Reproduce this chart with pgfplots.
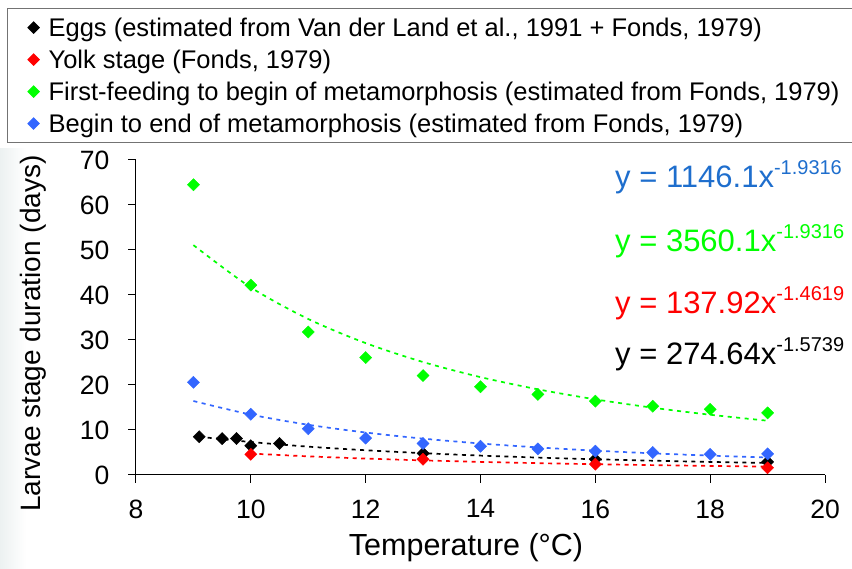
\documentclass[border=0pt]{standalone}
\usepackage{pgfplots}
\pgfplotsset{compat=1.18}
\usepackage{fontspec}
\setmainfont{Liberation Sans}
\definecolor{cgreen}{RGB}{0,255,0}
\definecolor{cblue}{RGB}{51,102,255}
\definecolor{cbluetext}{RGB}{30,110,205}
\definecolor{cred}{RGB}{255,0,0}
\definecolor{cshade}{RGB}{236,241,241}
\begin{document}
\begin{tikzpicture}
\shade[left color=cshade, right color=white] (0pt,0pt) rectangle (26pt,420pt);
\begin{axis}[
  at={(136pt,94pt)}, anchor=south west,
  scale only axis, width=689pt, height=315pt,
  xmin=8, xmax=20, ymin=0, ymax=70,
  xtick={8,10,...,20}, ytick={0,10,...,70},
  axis lines=left, axis line style={-, line width=1pt},
  tick align=outside, major tick length=8pt,
  tick style={black, line width=1pt},
  /pgf/number format/assume math mode=true,
  tick label style={font=\fontsize{26.5}{30}\selectfont},
  yticklabel style={xshift=-15pt},
  xticklabel style={yshift=-13pt},
  xlabel={Temperature (°C)},
  ylabel={Larvae stage duration (days)},
  xlabel style={font=\fontsize{30.5}{36}\selectfont, at={(axis description cs:0.479,-0.254)}, anchor=base, inner sep=0pt},
  ylabel style={font=\fontsize{28}{34}\selectfont, at={(axis description cs:-0.130,0.449)}, anchor=south, inner sep=0pt},
  legend cell align=left,
  legend style={at={(axis description cs:-0.18723,1.48254)}, anchor=north west,
    draw=black!55, line width=1.2pt, font=\fontsize{25.5}{28}\selectfont,
    inner xsep=20.5pt, inner ysep=7pt, row sep=8pt, column sep=7.5pt},
  legend image post style={mark size=3.9pt},
]
% trend lines
\addplot[cgreen, line width=1.7pt, dash pattern=on 4pt off 4.5pt, forget plot, smooth] coordinates {
(9,51.08) (10,41.68) (11,34.67) (12,29.31) (13,25.10) (14,21.75) (15,19.04) (16,16.81) (17,14.95) (18,13.39) (19,12.06)};
\addplot[cblue, line width=1.7pt, dash pattern=on 4pt off 4.5pt, forget plot, smooth] coordinates {
(9,16.44) (10,13.42) (11,11.16) (12,9.44) (13,8.08) (14,7.00) (15,6.13) (16,5.41) (17,4.81) (18,4.31) (19,3.88)};
\addplot[cred, line width=1.7pt, dash pattern=on 4pt off 4.5pt, forget plot, smooth] coordinates {
(10,4.761) (11,4.142) (12,3.648) (13,3.244) (14,2.911) (15,2.632) (16,2.395) (17,2.192) (18,2.016) (19,1.863)};
\addplot[black, line width=1.7pt, dash pattern=on 4pt off 4.5pt, forget plot, smooth] coordinates {
(9.1,8.50) (10,7.33) (11,6.30) (12,5.50) (13,4.85) (14,4.31) (15,3.87) (16,3.50) (17,3.18) (18,2.905) (19,2.668)};
% data
\addplot[only marks, mark=square*, mark size=4.3pt, black, mark options={rotate=45}] coordinates {
(9.1,8.5) (9.5,8.1) (9.75,8.1) (10,6.5) (10.5,7.0) (13,4.8) (16,3.5) (19,2.9)};
\addlegendentry{\makebox[820pt][l]{Eggs (estimated from Van der Land et al., 1991 + Fonds, 1979)}}
\addplot[only marks, mark=square*, mark size=4.3pt, cred, mark options={rotate=45}] coordinates {
(10,4.6) (13,3.5) (16,2.4) (19,1.6)};
\addlegendentry{Yolk stage (Fonds, 1979)}
\addplot[only marks, mark=square*, mark size=4.3pt, cgreen, mark options={rotate=45}] coordinates {
(9,64.5) (10,42.2) (11,31.8) (12,26.1) (13,22.1) (14,19.6) (15,17.9) (16,16.4) (17,15.3) (18,14.6) (19,13.8)};
\addlegendentry{First-feeding to begin of metamorphosis (estimated from Fonds, 1979)}
\addplot[only marks, mark=square*, mark size=4.3pt, cblue, mark options={rotate=45}] coordinates {
(9,20.6) (10,13.5) (11,10.3) (12,8.2) (13,7.0) (14,6.4) (15,5.8) (16,5.3) (17,5.0) (18,4.6) (19,4.7)};
\addlegendentry{Begin to end of metamorphosis (estimated from Fonds, 1979)}
\end{axis}
\begin{scope}[every node/.style={anchor=base west, inner sep=0pt, font=\fontsize{31}{36}\selectfont}]
\node[text=cbluetext] at (615pt,381pt) {y = 1146.1x\raisebox{13pt}{\fontsize{20}{24}\selectfont -1.9316}};
\node[text=cgreen] at (615pt,317pt) {y = 3560.1x\raisebox{13pt}{\fontsize{20}{24}\selectfont -1.9316}};
\node[text=cred] at (615pt,255pt) {y = 137.92x\raisebox{13pt}{\fontsize{20}{24}\selectfont -1.4619}};
\node[text=black] at (615pt,204pt) {y = 274.64x\raisebox{13pt}{\fontsize{20}{24}\selectfont -1.5739}};
\end{scope}
\pgfresetboundingbox
\path (0pt,0pt) rectangle (852pt,569pt);
\end{tikzpicture}
\end{document}
